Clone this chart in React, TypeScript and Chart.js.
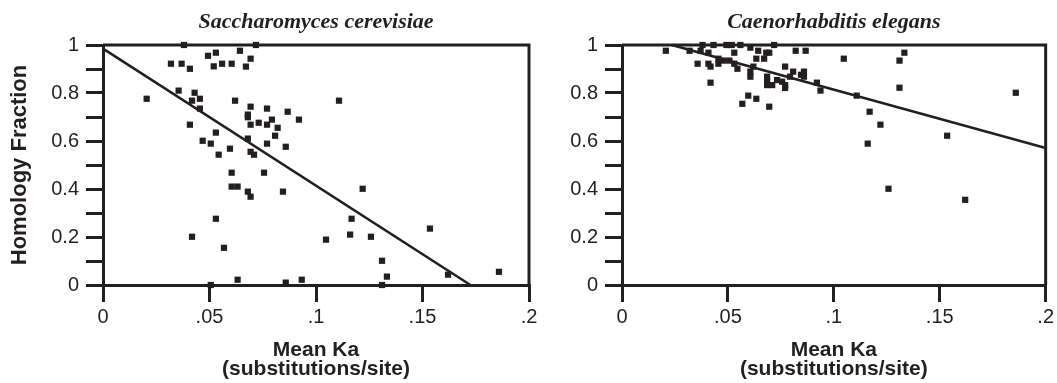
import React, { useEffect, useRef } from 'react';
import { Chart, registerables } from 'chart.js';

Chart.register(...registerables);

const INK = '#231f20';
const SANS = '"Liberation Sans", Arial, Helvetica, sans-serif';
const SERIF = '"Liberation Serif", "Times New Roman", serif';

// Saccharomyces cerevisiae
const yeastKa = [
  0.038, 0.0718, 0.0493, 0.053, 0.0643, 0.0693, 0.0319, 0.0369, 0.0408, 0.052,
  0.0559, 0.0604, 0.0671, 0.0355, 0.0205, 0.043, 0.0418, 0.0455, 0.0455, 0.062,
  0.0408, 0.0693, 0.077, 0.0867, 0.092, 0.068, 0.068, 0.0693, 0.0731, 0.077,
  0.0793, 0.082, 0.0808, 0.053, 0.0468, 0.0506, 0.068, 0.077, 0.0858, 0.0596,
  0.0543, 0.0693, 0.0709, 0.1108, 0.0604, 0.0756, 0.0604, 0.0632, 0.068, 0.0693,
  0.0845, 0.053, 0.0418, 0.0568, 0.0506, 0.0632, 0.0858, 0.0933, 0.1219, 0.1167,
  0.1047, 0.116, 0.1258, 0.1535, 0.131, 0.1333, 0.131, 0.162, 0.1859,
];
const yeastFrac = [
  1.0, 1.0, 0.955, 0.968, 0.976, 0.943, 0.922, 0.922, 0.901, 0.911,
  0.922, 0.922, 0.91, 0.81, 0.776, 0.801, 0.768, 0.776, 0.735, 0.768,
  0.668, 0.743, 0.735, 0.722, 0.689, 0.71, 0.699, 0.668, 0.676, 0.668,
  0.689, 0.655, 0.622, 0.635, 0.601, 0.589, 0.61, 0.589, 0.576, 0.568,
  0.543, 0.555, 0.543, 0.768, 0.468, 0.468, 0.41, 0.41, 0.389, 0.368,
  0.389, 0.276, 0.201, 0.155, 0.0, 0.022, 0.01, 0.022, 0.401, 0.276,
  0.189, 0.21, 0.201, 0.235, 0.101, 0.035, 0.0, 0.043, 0.055,
];
const yeastFitKa = [0, 0.1725];
const yeastFitFrac = [0.985, 0];

// Caenorhabditis elegans
const wormKa = [
  0.0207, 0.038, 0.0432, 0.0493, 0.0518, 0.0559, 0.0718, 0.0319, 0.0371, 0.0408,
  0.053, 0.0606, 0.0643, 0.0681, 0.0695, 0.082, 0.0867, 0.0357, 0.0408, 0.0418,
  0.0455, 0.0455, 0.0479, 0.0507, 0.053, 0.0545, 0.0634, 0.0671, 0.062, 0.0606,
  0.0606, 0.077, 0.0808, 0.0685, 0.0685, 0.0685, 0.0709, 0.0732, 0.0756, 0.077,
  0.077, 0.0793, 0.0845, 0.0859, 0.0859, 0.092, 0.0937, 0.0418, 0.0596, 0.0634,
  0.0568, 0.0695, 0.1047, 0.1333, 0.131, 0.131, 0.1108, 0.1169, 0.122, 0.116,
  0.1535, 0.1859, 0.1258, 0.162,
];
const wormFrac = [
  0.976, 1.0, 1.0, 1.0, 1.0, 1.0, 1.0, 0.976, 0.976, 0.968,
  0.968, 0.989, 0.976, 0.968, 0.968, 0.976, 0.976, 0.922, 0.922, 0.91,
  0.943, 0.922, 0.935, 0.935, 0.922, 0.901, 0.943, 0.943, 0.91, 0.889,
  0.868, 0.91, 0.889, 0.868, 0.847, 0.833, 0.833, 0.854, 0.847, 0.833,
  0.821, 0.868, 0.876, 0.889, 0.868, 0.843, 0.81, 0.843, 0.789, 0.776,
  0.755, 0.743, 0.943, 0.968, 0.935, 0.822, 0.789, 0.722, 0.668, 0.589,
  0.622, 0.801, 0.401, 0.355,
];
const wormFitKa = [0.0235, 0.2];
const wormFitFrac = [1.0, 0.571];

const xTickLabels = ['0', '.05', '.1', '.15', '.2'];
const yTickLabels = ['0', '0.2', '0.4', '0.6', '0.8', '1'];
const titles = ['Saccharomyces cerevisiae', 'Caenorhabditis elegans'];
const yTitle = 'Homology Fraction';
const xTitle = ['Mean Ka', '(substitutions/site)'];

const framePlugin = {
  id: 'frame',
  afterDraw(chart: any, _args: any, opts: any) {
    const { ctx, chartArea: a } = chart;
    ctx.save();
    ctx.strokeStyle = INK;
    ctx.lineWidth = 3;
    ctx.beginPath();
    ctx.moveTo(a.left, a.top);
    ctx.lineTo(a.right, a.top);
    ctx.lineTo(a.right, a.bottom);
    ctx.stroke();
    ctx.font = `italic bold 22px ${SERIF}`;
    ctx.fillStyle = INK;
    ctx.textAlign = 'center';
    ctx.textBaseline = 'alphabetic';
    ctx.fillText(opts.title, (a.left + a.right) / 2, 28);
    ctx.restore();
  },
};

function pts(xs: number[], ys: number[]) {
  return xs.map((x, i) => ({ x, y: ys[i] }));
}

function makeConfig(
  ka: number[], frac: number[], fitKa: number[], fitFrac: number[],
  title: string, yAxisWidth: number, rightPad: number, showYTitle: boolean,
): any {
  return {
    type: 'scatter',
    data: {
      datasets: [
        {
          data: pts(fitKa, fitFrac),
          showLine: true,
          borderColor: INK,
          borderWidth: 2.5,
          pointRadius: 0,
          clip: false,
        },
        {
          data: pts(ka, frac),
          backgroundColor: INK,
          borderColor: INK,
          borderWidth: 0,
          pointStyle: 'rect',
          pointRadius: 4.4,
          clip: false,
        },
      ],
    },
    options: {
      animation: false,
      responsive: false,
      layout: { padding: { left: 0, right: rightPad, top: 45, bottom: 0 } },
      plugins: {
        legend: { display: false },
        tooltip: { enabled: false },
        title: { display: false },
        frame: { title },
      },
      scales: {
        x: {
          type: 'linear',
          min: 0,
          max: 0.2,
          border: { display: true, color: INK, width: 3 },
          grid: { drawOnChartArea: false, drawTicks: true, tickLength: 17, color: INK, lineWidth: 3 },
          ticks: {
            stepSize: 0.05,
            autoSkip: false,
            maxRotation: 0,
            padding: 3,
            color: INK,
            font: { family: SANS, size: 20 },
            callback: (_v: any, i: number) => xTickLabels[i],
          },
          title: {
            display: true,
            text: xTitle,
            color: INK,
            font: { family: SANS, size: 21, weight: 'bold', lineHeight: 0.92 },
            padding: { top: 0, bottom: 4 },
          },
          afterFit: (s: any) => { s.height = 98; },
        },
        y: {
          type: 'linear',
          min: 0,
          max: 1,
          border: { display: true, color: INK, width: 3 },
          grid: { drawOnChartArea: false, drawTicks: true, tickLength: 17, color: INK, lineWidth: 3 },
          ticks: {
            stepSize: 0.1,
            autoSkip: false,
            padding: 7,
            color: INK,
            font: { family: SANS, size: 20 },
            callback: (_v: any, i: number) => (i % 2 === 0 ? yTickLabels[i / 2] : ''),
          },
          title: {
            display: showYTitle,
            text: yTitle,
            color: INK,
            font: { family: SANS, size: 22, weight: 'bold' },
            padding: { top: 7, bottom: 0 },
          },
          afterFit: (s: any) => { s.width = yAxisWidth; },
        },
      },
    },
    plugins: [framePlugin],
  };
}

export default function App() {
  const leftRef = useRef<HTMLCanvasElement>(null);
  const rightRef = useRef<HTMLCanvasElement>(null);

  useEffect(() => {
    const c1 = new Chart(leftRef.current as HTMLCanvasElement,
      makeConfig(yeastKa, yeastFrac, yeastFitKa, yeastFitFrac, titles[0], 103, 16, true));
    const c2 = new Chart(rightRef.current as HTMLCanvasElement,
      makeConfig(wormKa, wormFrac, wormFitKa, wormFitFrac, titles[1], 77, 9, false));
    return () => { c1.destroy(); c2.destroy(); };
  }, []);

  return (
    <div style={{ position: 'absolute', left: 0, top: 0, width: 1057, height: 383, background: '#fff' }}>
      <canvas ref={leftRef} width={545} height={383}
        style={{ position: 'absolute', left: 0, top: 0, width: 545, height: 383 }} />
      <canvas ref={rightRef} width={512} height={383}
        style={{ position: 'absolute', left: 545, top: 0, width: 512, height: 383 }} />
    </div>
  );
}
